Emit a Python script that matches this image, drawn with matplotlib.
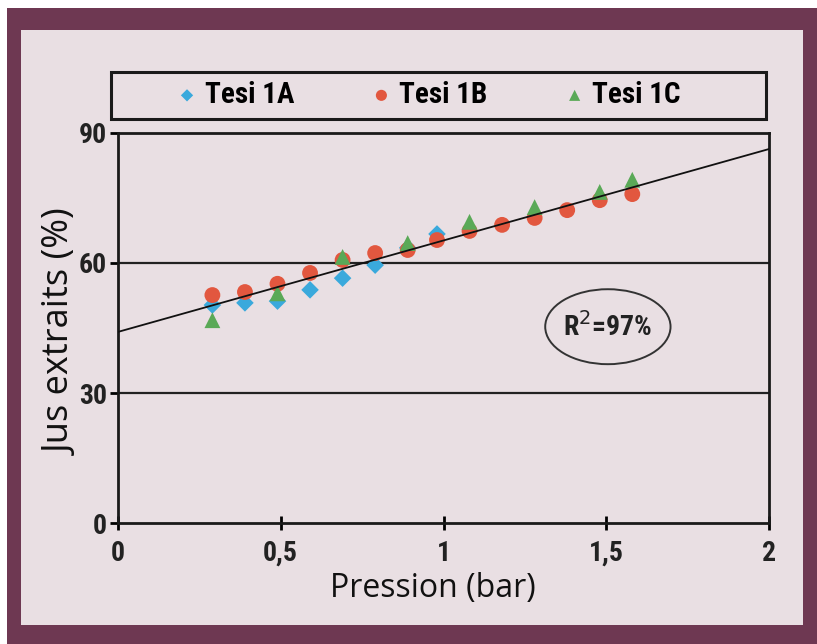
import matplotlib
matplotlib.use("Agg")
import matplotlib.pyplot as plt
from matplotlib.patches import Rectangle, Ellipse
import numpy as np

# pression (bar) and juice extracted (%)
x_1a = [0.29, 0.39, 0.49, 0.59, 0.69, 0.79, 0.89, 0.98]
y_1a = [50.3, 50.8, 51.2, 53.8, 56.5, 59.5, 63.5, 66.7]

x_1b = [0.29, 0.39, 0.49, 0.59, 0.69, 0.79, 0.89, 0.98, 1.08, 1.18, 1.28, 1.38, 1.48, 1.58]
y_1b = [52.6, 53.3, 55.2, 57.7, 60.7, 62.3, 63.0, 65.3, 67.4, 68.8, 70.4, 72.2, 74.5, 75.9]

x_1c = [0.29, 0.49, 0.69, 0.89, 1.08, 1.28, 1.48, 1.58]
y_1c = [46.8, 53.0, 61.4, 64.6, 69.5, 72.9, 76.4, 79.2]

# trend line drawn on the chart
trend_intercept = 44.1
trend_slope = 21.1
r2_label = "R$^{2}$=97%"

x_ticks = [0, 0.5, 1, 1.5, 2]
x_ticklabels = ["0", "0,5", "1", "1,5", "2"]
y_ticks = [0, 30, 60, 90]

frame_col = "#6e3852"
panel_col = "#e9dfe3"
blue = "#3aa9dc"
red = "#e2573f"
green = "#5aa957"
narrow = ["Roboto Condensed", "DejaVu Sans"]
label_font = ["Open Sans", "DejaVu Sans"]

fig = plt.figure(figsize=(8.17, 6.44), dpi=100)
fig.patch.set_facecolor("white")

# maroon frame and light panel
W, H = 817, 644
fig.patches.append(Rectangle((7 / W, 0), 1 - 7 / W, 1 - 8 / H, transform=fig.transFigure,
                             facecolor=frame_col, edgecolor="none", zorder=-10))
fig.patches.append(Rectangle((21 / W, 19 / H), (803 - 21) / W, (614 - 19) / H, transform=fig.transFigure,
                             facecolor=panel_col, edgecolor="none", zorder=-9))
# legend box
fig.patches.append(Rectangle((111 / W, 1 - 119 / H), 655 / W, 47 / H, transform=fig.transFigure,
                             facecolor="none", edgecolor="#1a1a1a", linewidth=2.2, zorder=5))

ax = fig.add_axes([118 / W, 1 - 523 / H, (769 - 118) / W, (523 - 133) / H])
ax.set_facecolor("none")

ax.scatter(x_1a, y_1a, marker="D", s=80, color=blue, edgecolors="none", zorder=3, label="Tesi 1A")
ax.scatter(x_1b, y_1b, marker="o", s=130, color=red, edgecolors="none", zorder=4, label="Tesi 1B")
ax.scatter(x_1c, y_1c, marker="^", s=130, color=green, edgecolors="none", zorder=5, label="Tesi 1C")

xl = np.array([0, 2])
ax.plot(xl, trend_intercept + trend_slope * xl, color="#111111", lw=1.3, zorder=6)

for v in [30, 60]:
    ax.axhline(v, color="#222222", lw=1.6, zorder=1)

ax.set_xlim(0, 2)
ax.set_ylim(0, 90)
ax.set_xticks(x_ticks)
ax.set_xticklabels(x_ticklabels)
ax.set_yticks(y_ticks)
for s in ax.spines.values():
    s.set_linewidth(2)
    s.set_color("#1a1a1a")
ax.tick_params(axis="x", direction="inout", length=10, width=2, pad=7)
ax.tick_params(axis="y", direction="out", length=6, width=2, pad=2)
for lab in ax.get_xticklabels() + ax.get_yticklabels():
    lab.set_fontfamily(narrow)
    lab.set_fontstretch("condensed")
    lab.set_fontweight("bold")
    lab.set_fontsize(20)
    lab.set_color("#222222")

ax.set_xlabel("Pression (bar)", fontsize=23, family=label_font, color="#111111")
ax.xaxis.set_label_coords(0.483, -0.125)
ax.set_ylabel("Jus extraits (%)", fontsize=26, family=label_font, color="#111111")
ax.yaxis.set_label_coords(-0.058, 0.49)

# R2 bubble
ax.add_patch(Ellipse((1.505, 45.3), 0.385, 17.3, facecolor="none", edgecolor="#333333", lw=1.4, zorder=2))
ax.text(1.505, 45.3, r2_label, ha="center", va="center", fontsize=20, fontweight="bold",
        family=narrow, fontstretch="condensed", color="#222222")

leg = ax.legend(loc="center", bbox_to_anchor=(428 / W, 1 - 95 / H), bbox_transform=fig.transFigure,
                ncol=3, frameon=False, markerscale=0.7, handletextpad=0.2, columnspacing=2.6,
                handlelength=0.8, borderpad=0, prop={"family": narrow, "weight": "bold", "size": 21,
                                                      "stretch": "condensed"})

fig.savefig("out.png", dpi=100, facecolor=fig.get_facecolor())
